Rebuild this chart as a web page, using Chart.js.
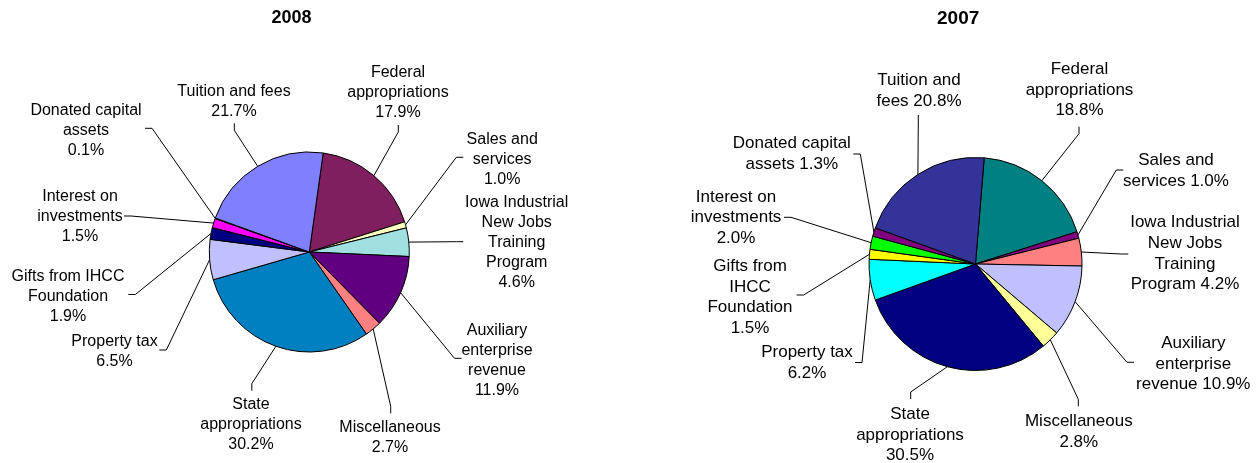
<!DOCTYPE html>
<html>
<head>
<meta charset="utf-8">
<script src="https://cdn.jsdelivr.net/npm/chart.js@4.4.1/dist/chart.umd.min.js"></script>
<style>
html, body { margin: 0; padding: 0; background: #fff; overflow: hidden; width: 1260px; height: 463px; }
#wrap { position: relative; width: 1260px; height: 463px; overflow: hidden; background: #fff; }
#wrap canvas { position: absolute; top: 0; }
#c2008 { left: 0; }
#c2007 { left: 630px; }
</style>
</head>
<body>
<div id="wrap">
  <canvas id="c2008" width="630" height="500"></canvas>
  <canvas id="c2007" width="630" height="500"></canvas>
</div>
<script>
// ---------- data ----------
const categories = [
  'Federal appropriations',
  'Sales and services',
  'Iowa Industrial New Jobs Training Program',
  'Auxiliary enterprise revenue',
  'Miscellaneous',
  'State appropriations',
  'Property tax',
  'Gifts from IHCC Foundation',
  'Interest on investments',
  'Donated capital assets',
  'Tuition and fees'
];
const values2008 = [17.9, 1.0, 4.6, 11.9, 2.7, 30.2, 6.5, 1.9, 1.5, 0.1, 21.7];
const values2007 = [18.8, 1.0, 4.2, 10.9, 2.8, 30.5, 6.2, 1.5, 2.0, 1.3, 20.8];
const chartTitles = ['2008', '2007'];

// ---------- styles ----------
const colors2008 = ['#7F1F5F', '#FFFFC0', '#A0E0E0', '#600080', '#FF8080', '#0080C0', '#C0C0FF', '#000080', '#FF00FF', '#FFFF00', '#8080FF'];
const colors2007 = ['#008080', '#800080', '#FF8080', '#C0C0FF', '#FFFF99', '#000080', '#00FFFF', '#FFFF00', '#00FF00', '#800080', '#333399'];

// words per label line (the value is the last word)
const lineBreaks2008 = [[1,1,1],[2,1,1],[2,2,1,1,1],[1,1,1,1],[1,1],[1,1,1],[2,1],[3,1,1],[2,1,1],[2,1,1],[3,1]];
const lineBreaks2007 = [[1,1,1],[2,2],[2,2,1,2],[1,1,2],[1,1],[1,1,1],[2,1],[2,1,1,1],[2,1,1],[2,2],[2,2]];

// label layout relative to the pie centre:
// [label centre x, first baseline y, leader end x, leader end y, tick direction]
const layout2008 = [
  [88.7, -174.7, 89, -127, 'v'],
  [192.9, -108, 154, -94.7, 'h'],
  [207.4, -45.3, 154, -10.3, 'h'],
  [187.7, 83, 152.2, 106.3, 'h'],
  [80.7, 179.7, 81.4, 161.3, 'v'],
  [-58.3, 157.3, -57.5, 138.7, 'v'],
  [-194.8, 94.3, -150, 98, 'h'],
  [-241.3, 28.5, -181, 42.5, 'h'],
  [-229.3, -51, -185.3, -36, 'h'],
  [-223.3, -137, -164.3, -123.7, 'h'],
  [-75.3, -156.3, -75, -128.7, 'v']
];
const layout2007 = [
  [104, -190, 103.5, -137.3, 'v'],
  [200.5, -99, 147.8, -94, 'h'],
  [209.5, -36.7, 152.8, -10, 'h'],
  [217.8, 84, 158.5, 98.3, 'h'],
  [103.3, 162.3, 102.8, 142.3, 'v'],
  [-65.5, 155, -64.8, 135, 'v'],
  [-168.5, 93.3, -120.5, 98.5, 'h'],
  [-225.5, 7, -178.8, 31, 'h'],
  [-239.5, -62.3, -191.5, -46.7, 'h'],
  [-183.7, -115.7, -122.2, -110, 'h'],
  [-56.5, -178.7, -57.2, -149, 'v']
];

const FONT = 'Arial, "Liberation Sans", sans-serif';

const leaderLabels = {
  id: 'leaderLabels',
  afterDatasetsDraw(chart, args, opts) {
    const ctx = chart.ctx;
    const meta = chart.getDatasetMeta(0);
    const vals = chart.data.datasets[0].data;
    ctx.save();
    ctx.font = opts.fontSize + 'px ' + FONT;
    ctx.fillStyle = '#000';
    ctx.strokeStyle = '#000';
    ctx.lineWidth = 1;
    ctx.textAlign = 'center';
    ctx.textBaseline = 'alphabetic';
    meta.data.forEach((arc, i) => {
      const p = arc.getProps(['x', 'y', 'startAngle', 'endAngle', 'outerRadius'], true);
      const mid = (p.startAngle + p.endAngle) / 2;
      const ax = p.x + Math.cos(mid) * p.outerRadius;
      const ay = p.y + Math.sin(mid) * p.outerRadius;
      const L = opts.layout[i];
      const ex = p.x + L[2], ey = p.y + L[3];
      let kx = ex, ky = ey;
      if (L[4] === 'h') kx += Math.sign(ax - ex) * opts.tick;
      else ky += Math.sign(ay - ey) * opts.tick;
      ctx.beginPath();
      ctx.moveTo(ex, ey);
      ctx.lineTo(kx, ky);
      ctx.lineTo(ax, ay);
      ctx.stroke();
      const words = chart.data.labels[i].split(' ').concat([vals[i].toFixed(1) + '%']);
      let k = 0;
      opts.breaks[i].forEach((n, j) => {
        const line = words.slice(k, k + n).join(' ');
        k += n;
        ctx.fillText(line, p.x + L[0], p.y + L[1] + j * opts.lineHeight);
      });
    });
    ctx.restore();
  }
};

function makeChart(id, title, values, colors, cfg) {
  return new Chart(document.getElementById(id), {
    type: 'pie',
    data: {
      labels: categories,
      datasets: [{
        data: values,
        backgroundColor: colors,
        borderColor: '#000',
        borderWidth: 1,
        clip: false
      }]
    },
    options: {
      responsive: false,
      maintainAspectRatio: false,
      animation: false,
      devicePixelRatio: 1,
      rotation: cfg.rotation,
      radius: cfg.radius,
      layout: { padding: cfg.padding },
      plugins: {
        legend: { display: false },
        tooltip: { enabled: false },
        title: {
          display: true,
          text: title,
          align: 'start',
          color: '#000',
          font: { family: FONT, size: cfg.titleSize, weight: 'bold', lineHeight: 1.2 },
          padding: { top: cfg.titlePadTop, bottom: 0 }
        },
        leaderLabels: {
          layout: cfg.layout,
          breaks: cfg.breaks,
          fontSize: cfg.fontSize,
          lineHeight: cfg.lineHeight,
          tick: 7
        }
      }
    },
    plugins: [leaderLabels]
  });
}

makeChart('c2008', chartTitles[0], values2008, colors2008, {
  rotation: 8,
  radius: 100,
  padding: { left: 271.5, right: 282.9, top: 0, bottom: 25.1 },
  titleSize: 18,
  titlePadTop: 7.5,
  layout: layout2008,
  breaks: lineBreaks2008,
  fontSize: 16,
  lineHeight: 20
});

makeChart('c2007', chartTitles[1], values2007, colors2007, {
  rotation: 4.7,
  radius: 106.5,
  padding: { left: 307, right: 246, top: 0, bottom: 2.1 },
  titleSize: 19,
  titlePadTop: 7.3,
  layout: layout2007,
  breaks: lineBreaks2007,
  fontSize: 17,
  lineHeight: 20.7
});
</script>
</body>
</html>
